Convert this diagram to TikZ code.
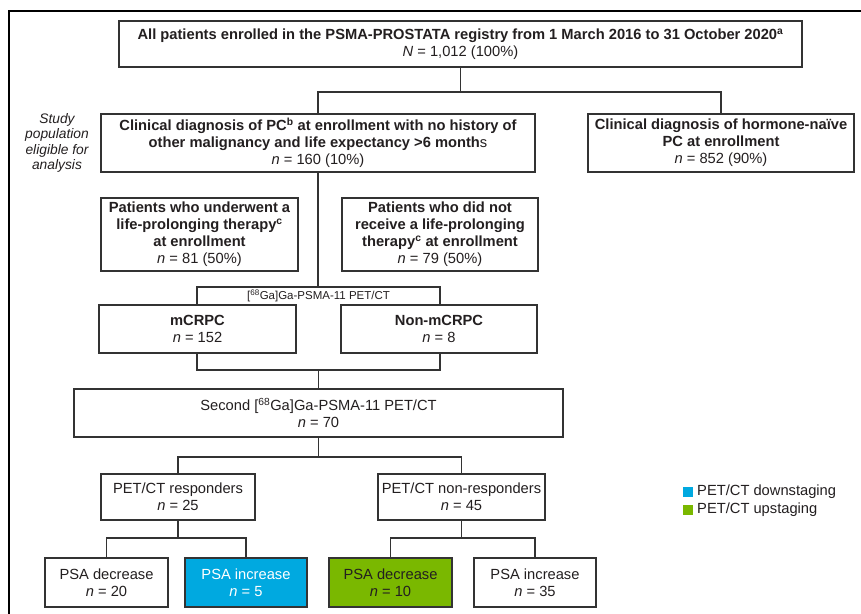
\documentclass[tikz,border=0pt]{standalone}
\usepackage{fontspec}
\setmainfont{Liberation Sans}
\definecolor{dsblue}{HTML}{00A9E0}
\definecolor{usgreen}{HTML}{7AB800}
\definecolor{ink}{HTML}{231F20}
\definecolor{edge}{HTML}{333333}
\begin{document}
\begin{tikzpicture}[x=1pt,y=-1pt,
  box/.style={draw=edge, line width=1.1pt, fill=white, inner sep=0pt, align=center, text=ink, font=\fontsize{14.7}{17}\selectfont},
  bbox/.style={box, font=\fontsize{14.7}{17}\selectfont\bfseries},
  link/.style={draw=edge, line width=1.1pt},
  legsq/.style={minimum size=9.5pt, inner sep=0pt},
  legtx/.style={anchor=west, inner sep=0pt, text=ink, font=\fontsize{14.7}{17}\selectfont},
]
\useasboundingbox (0,0) rectangle (861,613);
\fill[white] (0,0) rectangle (861,613);
% outer frame
\draw[black, line width=1.8pt] (9,620) -- (9,11) -- (870,11);

% study population label
\node[font=\fontsize{13.8}{15.2}\selectfont\itshape, align=center, text=ink, inner sep=0pt] (study) at (57,143) {Study\\population\\eligible for\\analysis};

% boxes
\node[bbox, minimum width=683pt, minimum height=46pt] (top) at (460.5,44) {All patients enrolled in the PSMA-PROSTATA registry from 1 March 2016 to 31 October 2020\textsuperscript{a}\\{\mdseries\textit{N} = 1,012 (100\%)}};
\node[bbox, minimum width=434pt, minimum height=58pt] (pc) at (318,143) {Clinical diagnosis of PC\textsuperscript{b} at enrollment with no history of\\other malignancy and life expectancy >6 month{\mdseries s}\\{\mdseries\textit{n} = 160 (10\%)}};
\node[bbox, minimum width=266pt, minimum height=58pt] (hn) at (721,143) {Clinical diagnosis of hormone-naïve\\PC at enrollment\\{\mdseries\textit{n} = 852 (90\%)}};
\node[bbox, minimum width=197pt, minimum height=73pt] (lpt) at (199.5,234.5) {Patients who underwent a\\life-prolonging therapy\textsuperscript{c}\\at enrollment\\{\mdseries\textit{n} = 81 (50\%)}};
\node[bbox, minimum width=196pt, minimum height=73pt] (nolpt) at (440,234.5) {Patients who did not\\receive a life-prolonging\\therapy\textsuperscript{c} at enrollment\\{\mdseries\textit{n} = 79 (50\%)}};

% bracket box for first PET/CT
\node[draw=edge, line width=1.1pt, minimum width=243pt, minimum height=83pt, inner sep=0pt] (ga) at (318.5,328.5) {};
\node[font=\fontsize{11.5}{13}\selectfont, text=ink, inner sep=0pt] (galabel) at (318.5,296) {[\textsuperscript{68}Ga]Ga-PSMA-11 PET/CT};

\node[bbox, minimum width=197pt, minimum height=48pt] (mcrpc) at (197.5,329) {mCRPC\\{\mdseries\textit{n} = 152}};
\node[bbox, minimum width=196pt, minimum height=48pt] (nonm) at (439,329) {Non-mCRPC\\{\mdseries\textit{n} = 8}};

\node[box, minimum width=489pt, minimum height=48pt] (second) at (318.5,413) {Second [\textsuperscript{68}Ga]Ga-PSMA-11 PET/CT\\\textit{n} = 70};
\node[box, minimum width=154pt, minimum height=46pt] (resp) at (178,497) {PET/CT responders\\\textit{n} = 25};
\node[box, minimum width=167pt, minimum height=46pt] (nonresp) at (461.5,497) {PET/CT non-responders\\\textit{n} = 45};

\node[box, minimum width=123pt, minimum height=49pt] (b1) at (106.5,582.5) {PSA decrease\\\textit{n} = 20};
\node[box, minimum width=122pt, minimum height=49pt, fill=dsblue, text=white] (b2) at (246,582.5) {PSA increase\\\textit{n} = 5};
\node[box, minimum width=123pt, minimum height=49pt, fill=usgreen] (b3) at (390.5,582.5) {PSA decrease\\\textit{n} = 10};
\node[box, minimum width=122pt, minimum height=49pt] (b4) at (535,582.5) {PSA increase\\\textit{n} = 35};

% connectors
\coordinate (j1) at (460.5,92);
\draw[link] (top.south) -- (j1);
\draw[link] (pc.north) |- (j1) -| (hn.north);
\draw[link] (pc.south) -- (pc.south |- ga.north);
\draw[link] (ga.south) -- (ga.south |- second.north);
\coordinate (j2) at (318.5,457);
\draw[link] (second.south) -- (j2);
\draw[link] (resp.north) |- (j2) -| (nonresp.north);
\coordinate (j3) at (178,538);
\draw[link] (resp.south) -- (j3);
\draw[link] (b1.north) |- (j3) -| (b2.north);
\coordinate (j4) at (461.5,538);
\draw[link] (nonresp.south) -- (j4);
\draw[link] (b3.north) |- (j4) -| (b4.north);

% legend
\node[legsq, fill=dsblue] (lgb) at (688,492) {};
\node[legtx] (lgbt) at (697,492) {PET/CT downstaging};
\node[legsq, fill=usgreen] (lgg) at (688,510) {};
\node[legtx] (lggt) at (697,510) {PET/CT upstaging};
\end{tikzpicture}
\end{document}
